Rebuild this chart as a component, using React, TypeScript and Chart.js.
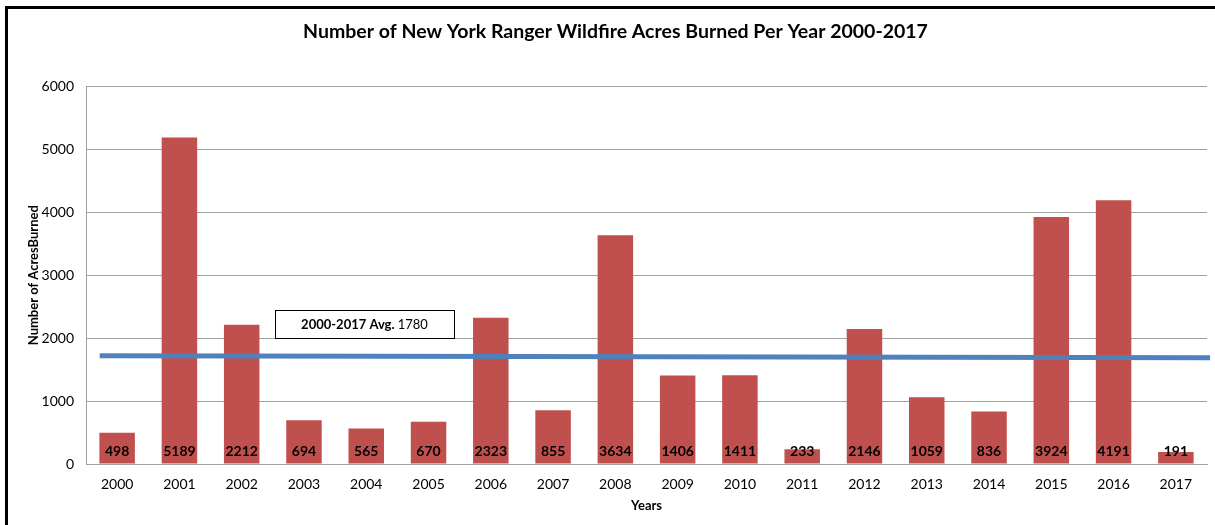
import React, { useEffect, useRef } from "react";
import { Chart, registerables } from "chart.js";

Chart.register(...registerables);

const years = ["2000","2001","2002","2003","2004","2005","2006","2007","2008","2009","2010","2011","2012","2013","2014","2015","2016","2017"];
const acres = [498, 5189, 2212, 694, 565, 670, 2323, 855, 3634, 1406, 1411, 233, 2146, 1059, 836, 3924, 4191, 191];
const avgLineX = [-0.28, 17.55];
const avgLineY = [1720, 1690];
const avgLabelBold = "2000-2017 Avg.";
const avgLabelValue = "1780";
const yMin = 0;
const yMax = 6000;
const yStep = 1000;

const FONT = "Lato, 'Open Sans', sans-serif";

const barLabelPlugin = {
  id: "barLabels",
  afterDatasetsDraw(chart: any) {
    const ctx = chart.ctx;
    const meta = chart.getDatasetMeta(0);
    const y0 = chart.scales.y.getPixelForValue(0);
    ctx.save();
    ctx.font = `bold 14px ${FONT}`;
    ctx.fillStyle = "#000";
    ctx.textAlign = "center";
    ctx.textBaseline = "middle";
    meta.data.forEach((bar: any, i: number) => {
      ctx.fillText(String(acres[i]), bar.x, y0 - 13);
    });
    ctx.restore();
  },
};

const avgBoxPlugin = {
  id: "avgBox",
  afterDatasetsDraw(chart: any) {
    const ctx = chart.ctx;
    const x2 = chart.scales.x2;
    const y = chart.scales.y;
    const left = Math.round(x2.getPixelForValue(2.535));
    const right = Math.round(x2.getPixelForValue(5.41));
    const top = Math.round(y.getPixelForValue(2451));
    const bottom = Math.round(y.getPixelForValue(2005));
    ctx.save();
    ctx.fillStyle = "#fff";
    ctx.fillRect(left, top, right - left, bottom - top);
    ctx.strokeStyle = "#000";
    ctx.lineWidth = 1;
    ctx.strokeRect(left + 0.5, top + 0.5, right - left, bottom - top);
    ctx.textBaseline = "middle";
    ctx.font = `bold 13px ${FONT}`;
    const w1 = ctx.measureText(avgLabelBold + " ").width;
    ctx.font = `13px ${FONT}`;
    const w2 = ctx.measureText(avgLabelValue).width;
    const cx = (left + right) / 2;
    const cy = (top + bottom) / 2 + 1;
    const sx = cx - (w1 + w2) / 2;
    ctx.fillStyle = "#000";
    ctx.textAlign = "left";
    ctx.font = `bold 13px ${FONT}`;
    ctx.fillText(avgLabelBold + " ", sx, cy);
    ctx.font = `13px ${FONT}`;
    ctx.fillText(avgLabelValue, sx + w1, cy);
    ctx.restore();
  },
};

export default function App() {
  const ref = useRef<HTMLCanvasElement | null>(null);
  useEffect(() => {
    document.body.style.margin = "0";
    const chart = new Chart(ref.current as HTMLCanvasElement, {
      type: "bar",
      data: {
        labels: years,
        datasets: [
          {
            type: "bar",
            label: "Acres Burned",
            data: acres,
            backgroundColor: "#C0504D",
            barPercentage: 0.57,
            categoryPercentage: 1,
            grouped: false,
            xAxisID: "x",
            yAxisID: "y",
            order: 2,
          } as any,
          {
            type: "line",
            label: "Average",
            data: avgLineX.map((x, i) => ({ x, y: avgLineY[i] })),
            borderColor: "#4F81BD",
            borderWidth: 5,
            pointRadius: 0,
            xAxisID: "x2",
            yAxisID: "y",
            clip: false,
            order: 1,
          } as any,
        ],
      },
      options: {
        animation: false,
        responsive: false,
        maintainAspectRatio: false,
        layout: { padding: { left: 24, right: 8, top: 0, bottom: 0 } },
        plugins: {
          legend: { display: false },
          tooltip: { enabled: false },
          title: {
            display: true,
            text: "Number of New York Ranger Wildfire Acres Burned Per Year 2000-2017",
            color: "#000",
            font: { family: FONT, size: 19.5, weight: "bold" },
            padding: { top: 20, bottom: 43 },
          },
        },
        scales: {
          x: {
            type: "category",
            grid: { display: false },
            border: { display: true, color: "#a0a0a0", width: 1 },
            ticks: { color: "#000", font: { family: FONT, size: 14 }, padding: 4, maxRotation: 0 },
            title: {
              display: true,
              text: "Years",
              color: "#000",
              font: { family: FONT, size: 13, weight: "bold" },
              padding: { top: 2, bottom: 11 },
            },
            afterFit(scale: any) {
              scale.height = 61;
            },
          },
          x2: {
            type: "linear",
            position: "bottom",
            offset: false,
            min: -0.5,
            max: 17.5,
            grid: { display: false, offset: false },
            border: { display: false },
            ticks: { display: false },
            afterFit(scale: any) {
              scale.height = 0;
            },
          },
          y: {
            min: yMin,
            max: yMax,
            ticks: {
              stepSize: yStep,
              color: "#000",
              font: { family: FONT, size: 14 },
              padding: 12,
              callback: (v: any) => String(v),
            },
            grid: { color: "#a0a0a0", drawTicks: false, lineWidth: 1 },
            border: { display: true, color: "#a0a0a0", width: 1 },
            title: {
              display: true,
              text: "Number of AcresBurned",
              color: "#000",
              font: { family: FONT, size: 13, weight: "bold" },
              padding: { top: 2, bottom: 0 },
            },
            afterFit(scale: any) {
              scale.width = 62;
            },
          },
        },
      } as any,
      plugins: [barLabelPlugin, avgBoxPlugin],
    });
    return () => chart.destroy();
  }, []);

  return (
    <div style={{ position: "absolute", left: 0, top: 0, width: 1215, height: 525, background: "#fff", overflow: "hidden" }}>
      <canvas ref={ref} width={1215} height={525} style={{ position: "absolute", left: 0, top: 0 }} />
      <div
        style={{
          position: "absolute",
          left: 5,
          top: 6,
          width: 1210,
          height: 519,
          borderLeft: "3px solid #000",
          borderTop: "3px solid #000",
          borderRight: "none",
          borderBottom: "none",
          boxSizing: "border-box",
          pointerEvents: "none",
        }}
      />
    </div>
  );
}
